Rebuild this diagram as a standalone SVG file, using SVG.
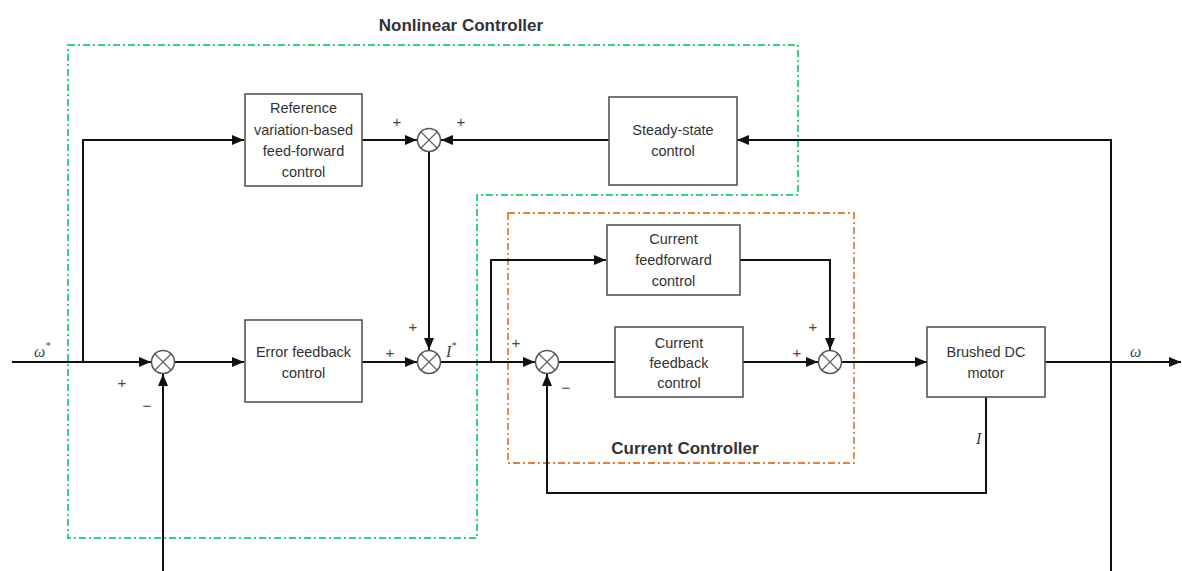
<svg xmlns="http://www.w3.org/2000/svg" width="1182" height="571" viewBox="0 0 1182 571">
<defs>
<marker id="arr" viewBox="0 0 12 10" refX="12" refY="5" markerWidth="12" markerHeight="10" markerUnits="userSpaceOnUse" orient="auto">
<path d="M0,0 L12,5 L0,10 Z" fill="#111"/>
</marker>
<style>
.box{fill:#fff;stroke:#555;stroke-width:1.6}
.txt{font-family:"Liberation Sans",Arial,sans-serif;font-size:14.5px;fill:#333;text-anchor:middle}
.title{font-family:"Liberation Sans",Arial,sans-serif;font-size:17px;font-weight:bold;fill:#333;text-anchor:middle}
.sj{fill:#fff;stroke:#555;stroke-width:1.5}
.sjx{stroke:#555;stroke-width:1.3}
.wire{fill:none;stroke:#111;stroke-width:2}
.sign{font-family:"Liberation Sans",Arial,sans-serif;font-size:15px;fill:#444;text-anchor:middle}
.sym{font-family:"Liberation Serif","Times New Roman",serif;font-style:italic;font-size:16px;fill:#444}
.green{fill:none;stroke:#2fd47f;stroke-width:2;stroke-dasharray:7,3,2,3}
.orange{fill:none;stroke:#e8803a;stroke-width:1.8;stroke-dasharray:7,3,2,3}
</style>
</defs>
<rect width="1182" height="571" fill="#fff"/>

<g id="nonlinear-controller">
<path class="green" d="M68,45 H798 V195 H477 V538 H68 Z"/>
<text class="title" x="461" y="31">Nonlinear Controller</text>
</g>
<g id="current-controller">
<rect class="orange" x="508" y="213" width="346" height="250"/>
<text class="title" x="685" y="454">Current Controller</text>
</g>

<g id="connectors">
<path class="wire" d="M12,362 H151" marker-end="url(#arr)"/>
<path class="wire" d="M83,362 V140 H244" marker-end="url(#arr)"/>
<path class="wire" d="M362,140 H417" marker-end="url(#arr)"/>
<path class="wire" d="M1111,571 V140 H737" marker-end="url(#arr)"/>
<path class="wire" d="M609,140 H441" marker-end="url(#arr)"/>
<path class="wire" d="M429,152 V350" marker-end="url(#arr)"/>
<path class="wire" d="M175,362 H244" marker-end="url(#arr)"/>
<path class="wire" d="M362,362 H417" marker-end="url(#arr)"/>
<path class="wire" d="M441,362 H535" marker-end="url(#arr)"/>
<path class="wire" d="M491,362 V260 H606" marker-end="url(#arr)"/>
<path class="wire" d="M559,362 H615"/>
<path class="wire" d="M743,362 H818" marker-end="url(#arr)"/>
<path class="wire" d="M740,260 H830 V350" marker-end="url(#arr)"/>
<path class="wire" d="M842,362 H927" marker-end="url(#arr)"/>
<path class="wire" d="M1045,362 H1181" marker-end="url(#arr)"/>
<path class="wire" d="M986,397 V493 H547 V374" marker-end="url(#arr)"/>
<path class="wire" d="M163,571 V374" marker-end="url(#arr)"/>
</g>

<g id="ref-ff">
<rect class="box" x="245" y="94" width="117" height="92"/>
<text class="txt" x="303.5" y="113">Reference</text>
<text class="txt" x="303.5" y="135">variation-based</text>
<text class="txt" x="303.5" y="156">feed-forward</text>
<text class="txt" x="303.5" y="177">control</text>
</g>
<g id="steady-state">
<rect class="box" x="609" y="97" width="128" height="88"/>
<text class="txt" x="673" y="135">Steady-state</text>
<text class="txt" x="673" y="156">control</text>
</g>
<g id="error-fb">
<rect class="box" x="245" y="320" width="117" height="82"/>
<text class="txt" x="303.5" y="357">Error feedback</text>
<text class="txt" x="303.5" y="378">control</text>
</g>
<g id="current-ff">
<rect class="box" x="607" y="225" width="133" height="70"/>
<text class="txt" x="673.5" y="244">Current</text>
<text class="txt" x="673.5" y="265">feedforward</text>
<text class="txt" x="673.5" y="286">control</text>
</g>
<g id="current-fb">
<rect class="box" x="615" y="327" width="128" height="70"/>
<text class="txt" x="679" y="348">Current</text>
<text class="txt" x="679" y="368">feedback</text>
<text class="txt" x="679" y="388">control</text>
</g>
<g id="motor">
<rect class="box" x="927" y="327" width="118" height="70"/>
<text class="txt" x="986" y="357">Brushed DC</text>
<text class="txt" x="986" y="378">motor</text>
</g>

<g id="sum1">
<circle class="sj" cx="163" cy="362" r="11.5"/>
<path class="sjx" d="M154.9,353.9 L171.1,370.1 M171.1,353.9 L154.9,370.1"/>
<text class="sign" x="122" y="388">+</text>
<text class="sign" x="147" y="411">−</text>
</g>
<g id="sum-top">
<circle class="sj" cx="429" cy="140" r="11.5"/>
<path class="sjx" d="M420.9,131.9 L437.1,148.1 M437.1,131.9 L420.9,148.1"/>
<text class="sign" x="397" y="127">+</text>
<text class="sign" x="461" y="127">+</text>
</g>
<g id="sum2">
<circle class="sj" cx="429" cy="362" r="11.5"/>
<path class="sjx" d="M420.9,353.9 L437.1,370.1 M437.1,353.9 L420.9,370.1"/>
<text class="sign" x="413" y="332">+</text>
<text class="sign" x="390" y="358">+</text>
</g>
<g id="sum3">
<circle class="sj" cx="547" cy="362" r="11.5"/>
<path class="sjx" d="M538.9,353.9 L555.1,370.1 M555.1,353.9 L538.9,370.1"/>
<text class="sign" x="516" y="348">+</text>
<text class="sign" x="566" y="393">−</text>
</g>
<g id="sum4">
<circle class="sj" cx="830" cy="362" r="11.5"/>
<path class="sjx" d="M821.9,353.9 L838.1,370.1 M838.1,353.9 L821.9,370.1"/>
<text class="sign" x="813" y="332">+</text>
<text class="sign" x="797" y="358">+</text>
</g>

<g id="labels">
<text class="sym" x="34" y="357">ω<tspan font-size="10" dy="-8">*</tspan></text>
<text class="sym" x="446" y="357">I<tspan font-size="10" dy="-8">*</tspan></text>
<text class="sym" x="1130" y="357">ω</text>
<text class="sym" x="976" y="444">I</text>
</g>
</svg>
